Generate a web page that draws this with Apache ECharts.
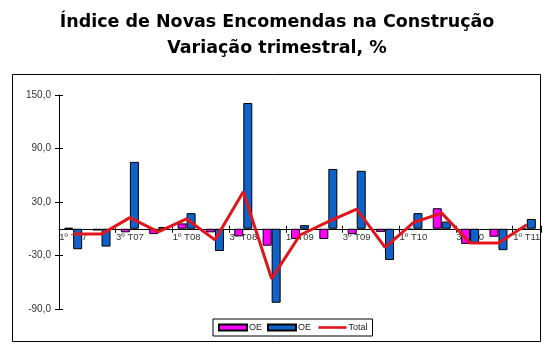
<!DOCTYPE html>
<html>
<head>
<meta charset="utf-8">
<script src="https://cdn.jsdelivr.net/npm/echarts@6/dist/echarts.min.js"></script>
<style>
  html, body { margin: 0; padding: 0; background: #fff; }
  #chart { width: 554px; height: 352px; }
</style>
</head>
<body>
<div id="chart"></div>
<script>
const categories = [
  '1º T07', '2º T07', '3º T07', '4º T07',
  '1º T08', '2º T08', '3º T08', '4º T08',
  '1º T09', '2º T09', '3º T09', '4º T09',
  '1º T10', '2º T10', '3º T10', '4º T10',
  '1º T11'
]
const oeMagenta = [1, -2, -4, -6, 6, -4, -8.5, -19, -11.5, -11.5, -6, -3.5, -1, 23, -17, -9, -0.5]
const oeBlue = [-23, -20, 75, 2, 17.5, -25, 141, -83, 4, 67, 65, -35, 17.5, 8, -17, -24, 11]
const total = [-6, -6, 12.5, -3.5, 11, -12.5, 41.5, -56, -7, 8, 22, -21, 7, 17.5, -16, -16, 4.5]

const yMin = -90
const yMax = 150

const gridTop = 95
const gridBottom = 43
const plotH = 352 - gridTop - gridBottom
// the category axis sits on the zero line: shift it from the grid edges
const zeroFromBottom = plotH * (0 - yMin) / (yMax - yMin)
const zeroFromTop = plotH - zeroFromBottom

const chart = echarts.init(document.getElementById('chart'))
// label axis runs 0..240, shown shifted back to -90..150
const fmt = (v) => (v + yMin).toFixed(1).replace('.', ',')

const option = {
  animation: false,
  backgroundColor: '#fff',
  title: {
    left: 'center',
    top: 4,
    text: 'Índice de Novas Encomendas na Construção\nVariação trimestral, %',
    textStyle: {
      fontFamily: 'DejaVu Sans',
      fontWeight: 'bold',
      fontSize: 17.5,
      lineHeight: 26,
      color: '#000'
    }
  },
  graphic: [
    {
      type: 'rect',
      shape: { x: 12.5, y: 74.5, width: 528, height: 267 },
      style: { fill: 'none', stroke: '#000', lineWidth: 1 },
      z: -1
    }
  ],
  legend: {
    left: 213,
    top: 319,
    padding: [4, 5],
    itemGap: 5,
    itemWidth: 28,
    itemHeight: 6,
    borderColor: '#000',
    borderWidth: 1,
    textStyle: { fontFamily: 'Liberation Sans', fontSize: 9, color: '#222', padding: [0, 0, 0, -3] },
    data: [
      { name: 'OE', icon: 'rect' },
      { name: 'OE ', icon: 'rect' },
      { name: 'Total', icon: 'path://M0,0 L32,0 L32,3 L0,3 Z' }
    ]
  },
  grid: { left: 59, right: 13, top: gridTop, bottom: gridBottom },
  xAxis: [
    {
      type: 'category',
      data: categories,
      position: 'bottom',
      offset: -zeroFromBottom,
      axisLine: { onZero: false, lineStyle: { color: '#000', width: 1 } },
      axisTick: { show: true, length: 4, lineStyle: { color: '#000' } },
      axisLabel: {
        interval: 1,
        fontFamily: 'Liberation Sans',
        fontSize: 9.5,
        color: '#333',
        margin: 4
      }
    },
    {
      type: 'category',
      data: categories,
      position: 'top',
      offset: -zeroFromTop,
      axisLine: { show: false, onZero: false },
      axisTick: { show: true, length: 3, lineStyle: { color: '#000' } },
      axisLabel: { show: false }
    }
  ],
  yAxis: [
    {
      type: 'value',
      min: yMin,
      max: yMax,
      axisLine: { show: false },
      axisTick: { show: false },
      axisLabel: { show: false },
      splitLine: { show: false }
    },
    {
      type: 'value',
      min: 0,
      max: yMax - yMin,
      interval: 60,
      position: 'left',
      axisLine: { show: true, onZero: false, lineStyle: { color: '#000' } },
      axisTick: { show: true, length: 4, lineStyle: { color: '#000' } },
      axisLabel: {
        formatter: fmt,
        fontFamily: 'Liberation Sans',
        fontSize: 10,
        color: '#333',
        margin: 8
      },
      splitLine: { show: false }
    },
    {
      type: 'value',
      min: 0,
      max: yMax - yMin,
      interval: 60,
      position: 'left',
      axisLine: { show: false, onZero: false },
      axisTick: { show: true, inside: true, length: 4, lineStyle: { color: '#000' } },
      axisLabel: { show: false },
      splitLine: { show: false }
    }
  ],
  series: [
    {
      name: 'OE',
      type: 'bar',
      data: oeMagenta,
      barWidth: 9,
      barGap: '0%',
      itemStyle: { color: '#ff00ff', borderColor: '#000', borderWidth: 1 }
    },
    {
      name: 'OE ',
      type: 'bar',
      data: oeBlue,
      barWidth: 9,
      barGap: '0%',
      itemStyle: { color: '#0f62c9', borderColor: '#000', borderWidth: 1 }
    },
    {
      name: 'Total',
      type: 'line',
      data: total,
      symbol: 'none',
      z: 5,
      lineStyle: { color: '#e3151c', width: 3 },
      itemStyle: { color: '#e3151c' }
    }
  ]
}

chart.setOption(option)
</script>
</body>
</html>
